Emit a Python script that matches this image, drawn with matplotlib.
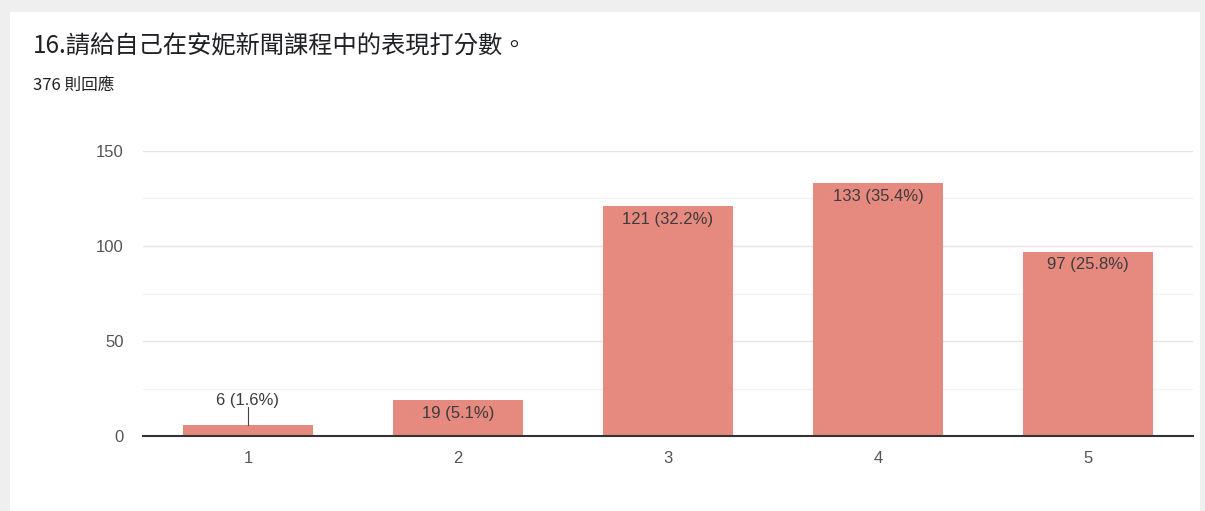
import matplotlib.pyplot as plt
from matplotlib.patches import Rectangle

plt.rcParams['font.family'] = ['Noto Sans CJK TC', 'DejaVu Sans']

categories = ['1', '2', '3', '4', '5']
counts = [6, 19, 121, 133, 97]
percents = ['1.6%', '5.1%', '32.2%', '35.4%', '25.8%']
yticks = [0, 50, 100, 150]

fig = plt.figure(figsize=(12.05, 5.11), dpi=100, facecolor='#efefef')
# white card behind everything
fig.patches.append(Rectangle((10 / 1205, 0), 1190 / 1205, 1 - 12 / 511,
                             transform=fig.transFigure, facecolor='white',
                             edgecolor='none', zorder=-5))

fig.text(33 / 1205, 1 - 47 / 511, '16.請給自己在安妮新聞課程中的表現打分數。',
         fontsize=17.5, color='#202124', va='center', ha='left')
fig.text(33 / 1205, 1 - 85 / 511, '376 則回應', fontsize=12,
         color='#202124', va='center', ha='left')

ax = fig.add_axes([143 / 1205, 1 - 436 / 511, 1050 / 1205, 285 / 511])
ax.set_facecolor('none')
x = range(len(categories))
bars = ax.bar(x, counts, width=0.62, color='#e6897f', zorder=3)

ax.set_xlim(-0.5, 4.5)
ax.set_ylim(0, 150)
ax.set_yticks(yticks)
ax.set_yticks([25, 75, 125], minor=True)
ax.set_xticks(list(x))
ax.set_xticklabels(categories)
ax.tick_params(axis='both', length=0, labelsize=12, colors='#555555')
ax.tick_params(axis='y', which='minor', length=0)
ax.tick_params(axis='y', pad=14)
ax.tick_params(axis='x', pad=11)
for lab in ax.get_xticklabels() + ax.get_yticklabels():
    lab.set_family('Liberation Sans')
ax.grid(axis='y', which='major', color='#e4e4e4', lw=1, zorder=0)
ax.grid(axis='y', which='minor', color='#f3f3f3', lw=1, zorder=0)
for s in ['top', 'right', 'left']:
    ax.spines[s].set_visible(False)
ax.spines['bottom'].set_color('#333333')
ax.spines['bottom'].set_linewidth(1.5)
ax.spines['bottom'].set_zorder(4)

for i, (c, p) in enumerate(zip(counts, percents)):
    label = f'{c} ({p})'
    if c < 15:
        ax.plot([i, i], [c, c + 9.5], color='#444444', lw=0.8, zorder=4)
        ax.text(i, c + 9, label, ha='center', va='bottom', fontsize=12,
                color='#3c3c3c', family='Liberation Sans')
    else:
        ax.text(i, c - 3, label, ha='center', va='top', fontsize=12,
                color='#3c3c3c', family='Liberation Sans', zorder=5)

fig.savefig('out.png', dpi=100, facecolor=fig.get_facecolor())
